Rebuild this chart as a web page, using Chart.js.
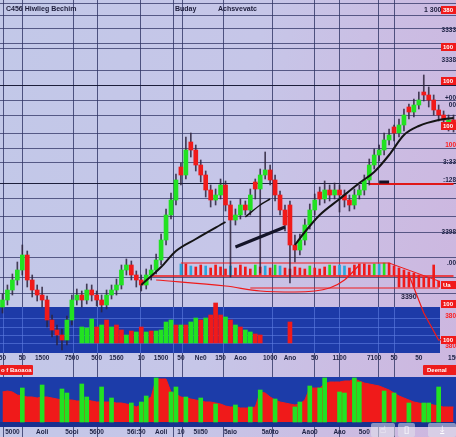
<!DOCTYPE html>
<html>
<head>
<meta charset="utf-8">
<script src="https://cdn.jsdelivr.net/npm/chart.js@4.4.1/dist/chart.umd.min.js"></script>
<style>
html, body { margin: 0; padding: 0; }
body {
  width: 456px; height: 437px; overflow: hidden; position: relative;
  background: linear-gradient(100deg, #c2c8e8 0%, #c6c6e8 50%, #cbbde3 75%, #cdb6df 100%);
  font-family: "Liberation Sans", "DejaVu Sans", sans-serif;
}
#chart { position: absolute; left: 0; top: 0; }
.hd { position: absolute; font-weight: bold; font-size: 7px; line-height: 8px; color: #1c1c3a; white-space: nowrap; }
.tag { position: absolute; background: #ee1c1c; color: #fff; font-weight: bold; font-size: 6px;
  line-height: 10px; height: 10px; white-space: nowrap; overflow: hidden; border-radius: 1px; }
.ico { position: absolute; top: 423px; height: 14px; background: rgba(225,225,235,0.55); border-radius: 2px;
  color: #fff; font-family: "DejaVu Sans"; font-size: 10px; line-height: 14px; text-align: center; }
</style>
</head>
<body>
<canvas id="chart" width="456" height="437"></canvas>
<div class="hd" style="left:6px;top:5px">C456 Hiwlieg Bechim</div>
<div class="hd" style="left:175px;top:5px">Buday</div>
<div class="hd" style="left:218px;top:5px">Achsvevatc</div>
<div class="hd" style="left:424px;top:6px">1 300</div>
<div class="hd" style="left:401px;top:293px">3390</div>
<div class="tag" style="left:0;top:365px;width:32px;padding-left:1px">o f Baoaoa</div>
<div class="tag" style="left:423px;top:365px;width:33px;padding-left:4px">Deenal</div>
<div class="ico" style="left:371px;width:24px">☝</div>
<div class="ico" style="left:398px;width:17px">▯</div>
<div class="ico" style="left:428px;width:28px">⤓</div>
<script>
// candles, one per session
var open = [130,137,147,157,167,182,157,147,142,137,
            117,107,102,97,117,137,142,137,147,142,
            137,132,142,147,152,167,172,162,157,152,
            162,167,177,197,222,237,270,262,295,287,
            272,262,247,237,242,252,232,217,222,232,
            227,255,248,262,267,257,242,227,232,192,
            187,197,212,227,245,238,247,242,247,242,
            237,232,242,247,257,272,282,287,297,310,
            304,312,330,325,332,345,342,337,327,322,
            312,317];
var close = [137,147,157,167,182,157,147,142,137,117,
             107,102,97,117,137,142,137,147,142,137,
             132,142,147,152,167,172,162,157,152,162,
             167,177,197,222,237,257,262,287,287,272,
             262,247,237,242,252,232,217,222,232,227,
             242,248,262,267,257,242,227,212,192,187,
             197,212,227,237,238,247,242,247,242,237,
             232,242,247,257,272,282,287,297,302,304,
             312,322,325,332,337,342,337,327,322,317,
             317,312];
var high = [143,152,163,175,192,186,162,152,150,141,
            122,112,108,121,142,148,146,153,152,146,
            142,147,152,158,172,178,176,166,162,168,
            172,183,203,228,244,263,274,300,304,292,
            277,266,252,248,258,256,236,228,238,236,
            248,258,268,285,272,262,246,232,236,202,
            203,218,233,243,250,256,252,254,252,247,
            242,248,252,262,278,288,292,304,308,312,
            318,328,333,338,345,362,350,342,332,326,
            322,322];
var low = [124,132,142,152,162,150,140,136,130,110,
           100,92,87,92,112,132,130,133,136,131,
           125,128,138,142,148,162,157,150,146,148,
           157,163,172,192,218,232,252,258,280,266,
           255,240,230,232,238,226,160,212,218,222,
           222,238,164,258,252,236,222,206,154,175,
           182,192,208,222,232,234,236,238,225,230,
           226,228,238,242,252,268,276,282,292,296,
           300,306,318,320,328,336,330,322,316,310,
           306,305];

// moving averages and levels: [session, price]
var maFast = [[28,152],[32,170],[35,186],[39,198],[45,215]];
var maTrend = [[47,190],[57,210]];
var maShort = [[49,220],[52,232],[54,238]];
var maSlow = [[59,192],[61,205],[64,222],[68,238],[72,254],[75,265],[78,282],[81,302],[84,311],[88,317],[91,319]];
var maMark = [[76,255],[78,255]];
var resistance = [[74,253],[91,253]];

// red band indicator
var bandTop = [[36,174],[78,174],[88,156]];
var bandMid = [[30,161],[91,161]];
var bandLow = [[50,149],[88,149]];
var bandCurve = [[31,157],[45,151],[52,146],[59,145],[66,149],[69,157],[72,172]];
var bandDrop = [[82,162],[85,124],[88,97],[91,100]];
var combStart = 36;
var combHigh = [173,173,171,170,172,171,169,172,170,168,
                171,169,172,170,168,172,170,171,169,172,
                171,169,168,170,169,168,171,169,168,170,
                172,171,172,171,169,172,173,173,172,173,
                173,174,174,171,169,167,165,164,162,160,
                159,172,156];
var combLow = [162,162,162,162,162,162,162,162,162,162,
               162,162,162,162,162,162,162,162,162,162,
               162,162,162,162,162,162,162,162,162,162,
               162,162,162,162,162,162,162,162,162,162,
               162,162,162,162,150,150,150,150,150,150,
               150,150,150];
var combKind = 'brbrrbrrrr' + 'brrrrgrbrg' + 'brrrrrgrrr' + 'grbbrrrrrg' + 'bgrrrrrrrr' + 'rrr';

// volume: [session, volume]
var volume = [[16,16],[17,15],[18,24],[19,16],[20,18],[21,23],[22,16],[23,18],[24,13],[25,8],
              [26,12],[27,11],[28,16],[29,11],[30,12],[31,12],[32,13],[33,21],[34,23],[35,18],
              [36,18],[37,18],[38,21],[39,25],[40,23],[41,25],[42,28],[43,40],[44,28],[45,26],
              [46,23],[47,18],[48,16],[49,13],[50,11],[51,9],[52,8],[58,21]];
var volSide = 'gggrgrgrrg' + 'rgrgrggggr' + 'grggrgrrrg' + 'rgrggrrr';

// lower oscillator
var osc = [30,31,30,27,26,25,25,24,25,25,
           24,23,22,22,22,21,21,22,21,20,
           20,20,20,19,19,18,17,15,17,22,
           25,43,43,43,30,28,25,24,23,22,
           21,20,20,19,18,16,15,15,14,14,
           14,15,30,29,25,22,20,19,18,17,
           18,22,34,34,34,38,40,40,40,41,
           41,43,41,39,38,37,36,34,32,29,
           26,24,22,20,19,18,18,17,16,15,
           15,15];
var oscUp = [[4,34],[8,37],[12,33],[13,29],[16,38],[17,25],[20,35],[22,24],[26,19],[28,20],
             [29,26],[31,44],[34,30],[35,35],[37,25],[40,24],[43,18],[47,17],[50,15],[52,32],
             [55,23],[59,15],[60,20],[62,36],[64,34],[65,44],[68,30],[69,29],[71,44],[72,40],
             [77,31],[79,29],[82,19],[85,19],[86,19],[88,35]];

// axes
var gridPrice = [433,421,409,394,388,367,352,337,322,304,289,275,254,239,220,204,180,160,144];
var gridX = [3,22,73,97,140,173,182,223,272,314,339,378,394];
var rightTicks = [427,407,390,377,356,339,332,311,292,275,257,205,174,152,133,121,97,91];
var rightLabels = ['380','3333','100','3338','100','+00','00','100','100','3:33',':128','3398','.00','Ua','100','380','100','380'];
var rightKind = ['box','dark','box','dark','box','dark','dark','box','red','dark','dark','dark','dark','box','box','red','box','red'];
var midTicks = [0,4,8,14,19,23,28,32,36,40,44,48,54,58,63,68,75,79,84,91];
var midLabels = ['50','50','1500','7500','500','1560','10','1500','50','Ne0','150','Aoo','1000','Ano','50','1100','7100','50','50','150'];
var botTicks = [2,8,14,19,27,32,36,40,46,54,62,68,73];
var botLabels = ['5000','Aoli','5ooi','5600','56i:50','Aoli','10','5ii50','5aio','5a0to','Aao0','Aao','5o0'];

var GREEN = '#22e222', RED = '#f01a1a', BLUE = '#2aa6dc', INK = '#1e2244';
var FONT = '"Liberation Sans", "DejaVu Sans", sans-serif';
var N = close.length;
var sessions = close.map(function (c, i) { return 'S' + (i + 1); });

function at(pairs) {
  var a = new Array(N).fill(null);
  pairs.forEach(function (p) { a[p[0]] = p[1]; });
  return a;
}

var combData = new Array(N).fill(null);
var combColors = new Array(N).fill(RED);
combHigh.forEach(function (h, k) {
  combData[combStart + k] = [combLow[k], h];
  var c = combKind[k];
  combColors[combStart + k] = c === 'b' ? BLUE : (c === 'g' ? GREEN : RED);
});
var volColors = new Array(N).fill(RED);
volume.forEach(function (p, k) { volColors[p[0]] = volSide[k] === 'g' ? GREEN : RED; });

function line(data, color, width, smooth, order) {
  return {
    type: 'line', data: at(data), yAxisID: 'y', borderColor: color, borderWidth: width,
    pointRadius: 0, spanGaps: true, fill: false, order: order,
    cubicInterpolationMode: smooth ? 'monotone' : 'default', tension: 0
  };
}

var panels = {
  id: 'panels',
  beforeDatasetsDraw: function (chart) {
    var ctx = chart.ctx, xg = chart.scales.xg;
    ctx.save();
    ctx.fillStyle = '#1d3aa8';
    ctx.fillRect(0, 307, 440, 46);
    ctx.fillStyle = '#1c3ca9';
    ctx.fillRect(0, 377, 456, 50);
    ctx.fillStyle = '#18308f';
    ctx.fillRect(0, 422, 456, 5);
    ctx.strokeStyle = 'rgba(95,125,225,0.6)';
    ctx.lineWidth = 1;
    [318, 327, 335, 343].forEach(function (y) {
      ctx.beginPath(); ctx.moveTo(0, y + 0.5); ctx.lineTo(440, y + 0.5); ctx.stroke();
    });
    gridX.forEach(function (v) {
      var x = Math.round(xg.getPixelForValue(v)) + 0.5;
      if (x < 440) { ctx.beginPath(); ctx.moveTo(x, 307); ctx.lineTo(x, 353); ctx.stroke(); }
    });
    ctx.restore();
  }
};

var texts = {
  id: 'texts',
  afterDraw: function (chart) {
    var ctx = chart.ctx, x = chart.scales.x, y = chart.scales.y;
    ctx.save();
    ctx.textBaseline = 'middle';
    ctx.font = 'bold 6.5px ' + FONT;
    ctx.fillStyle = INK;
    ctx.textAlign = 'center';
    midTicks.forEach(function (t, k) { ctx.fillText(midLabels[k], x.getPixelForValue(t), 358); });
    botTicks.forEach(function (t, k) { ctx.fillText(botLabels[k], x.getPixelForValue(t), 432); });
    rightTicks.forEach(function (p, k) {
      var py = y.getPixelForValue(p);
      if (rightKind[k] === 'box') {
        ctx.fillStyle = RED;
        ctx.fillRect(441, py - 4, 15, 8);
        ctx.fillStyle = '#ffffff';
        ctx.textAlign = 'left';
        ctx.font = 'bold 6px ' + FONT;
        ctx.fillText(rightLabels[k], 443, py);
      } else {
        ctx.fillStyle = rightKind[k] === 'red' ? '#ff2020' : INK;
        ctx.textAlign = 'right';
        ctx.font = 'bold 6.5px ' + FONT;
        ctx.fillText(rightLabels[k], 456, py);
      }
    });
    ctx.restore();
  }
};

new Chart(document.getElementById('chart'), {
  data: {
    labels: sessions,
    datasets: [
      { type: 'line', data: osc, yAxisID: 'yl', borderColor: RED, backgroundColor: RED, borderWidth: 1,
        fill: 'origin', pointRadius: 0, tension: 0, order: 30 },
      { type: 'bar', data: at(oscUp), yAxisID: 'yl', backgroundColor: GREEN, barThickness: 4,
        grouped: false, order: 29 },
      { type: 'bar', data: at(volume), yAxisID: 'yv', backgroundColor: volColors, barThickness: 4,
        grouped: false, order: 28 },
      { type: 'bar', data: combData, yAxisID: 'y', backgroundColor: combColors, barThickness: 2,
        grouped: false, order: 27 },
      line(bandMid, RED, 1.5, false, 26),
      line(bandLow, RED, 1, false, 25),
      line(bandTop, RED, 1, false, 24),
      line(bandCurve, RED, 1.2, true, 23),
      line(bandDrop, RED, 1.2, false, 22),
      line(resistance, '#e01818', 2, false, 21),
      { type: 'bar', data: high.map(function (h, i) { return [low[i], h]; }), yAxisID: 'y',
        backgroundColor: 'rgba(45,35,60,0.85)', barThickness: 1, grouped: false, order: 6 },
      { type: 'bar', data: open.map(function (o, i) { return [o, close[i]]; }), yAxisID: 'y',
        backgroundColor: open.map(function (o, i) { return close[i] >= o ? GREEN : RED; }),
        barThickness: 4, minBarLength: 1, grouped: false, order: 5 },
      line(maFast, '#141414', 2, true, 4),
      line(maTrend, '#141428', 3, false, 3),
      line(maShort, '#141414', 1.5, true, 2),
      line(maSlow, '#141414', 2, true, 1),
      line(maMark, '#141428', 3, false, 0)
    ]
  },
  options: {
    responsive: false,
    animation: false,
    layout: { padding: 0 },
    plugins: { legend: { display: false }, tooltip: { enabled: false } },
    scales: {
      x: { type: 'category', display: false, offset: true },
      xg: {
        type: 'linear', min: 0, max: 456, position: 'top',
        ticks: { display: false }, border: { display: false },
        grid: { drawTicks: false, color: 'rgba(48,52,100,0.8)', lineWidth: 1 },
        afterBuildTicks: function (s) { s.ticks = gridX.map(function (v) { return { value: v }; }); }
      },
      y: {
        min: 0, max: 437, position: 'left',
        ticks: { display: false }, border: { display: false },
        grid: {
          drawTicks: false, lineWidth: 1,
          color: function (c) { return (c.tick && (c.tick.value === 352 || c.tick.value === 254)) ? 'rgba(20,22,50,0.95)' : 'rgba(48,52,100,0.75)'; }
        },
        afterBuildTicks: function (s) { s.ticks = gridPrice.map(function (v) { return { value: v }; }); }
      },
      yv: { display: false, min: -94, max: 343 },
      yl: { display: false, min: -15, max: 422 }
    }
  },
  plugins: [panels, texts]
});
</script>
</body>
</html>
